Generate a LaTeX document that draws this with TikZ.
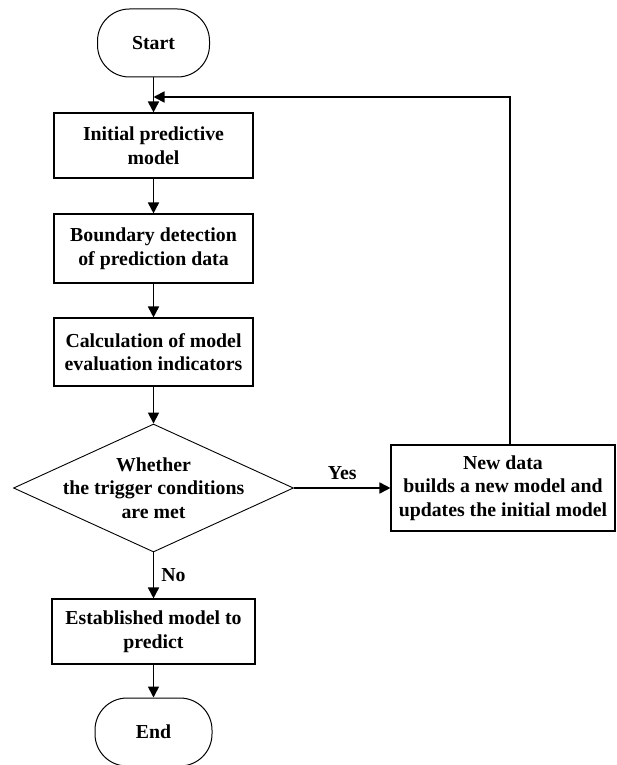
\documentclass[tikz,border=0pt]{standalone}
\usepackage{fontspec}
\setmainfont{Liberation Serif}
\usetikzlibrary{shapes.geometric,arrows.meta}
\begin{document}
\begin{tikzpicture}[x=1pt,y=-1pt,
  every node/.style={font=\fontsize{19.8}{23.5}\selectfont\bfseries, align=center, inner sep=0pt},
  procbox/.style={draw, line width=1.1pt, rectangle},
  term/.style={draw, line width=1pt, rectangle, rounded corners=32pt, minimum width=112pt, minimum height=68pt},
  flow/.style={line width=1.7pt, -{Triangle[length=11pt,width=11pt]}},
  lbl/.style={font=\fontsize{19.8}{23.5}\selectfont\bfseries}
]
\useasboundingbox (0,0) rectangle (617,765);
\node[term] (start) at (153.5,43) {Start};
\node[procbox, minimum width=199pt, minimum height=65pt] (b1) at (153.5,145.5) {Initial predictive\\model};
\node[procbox, minimum width=199pt, minimum height=69pt] (b2) at (153.5,248.5) {Boundary detection\\of prediction data};
\node[procbox, minimum width=199pt, minimum height=68pt] (b3) at (153.5,352) {Calculation of model\\evaluation indicators};
\node[draw, line width=0.9pt, diamond, aspect=2.1875, minimum width=280pt, minimum height=128pt] (dia) at (153.5,488) {};
\node (diatext) at (dia.center) {Whether\\the trigger conditions\\are met};
\node[procbox, minimum width=224pt, minimum height=86pt] (nd) at (503,488) {New data\\builds a new model and\\updates the initial model};
\node[procbox, minimum width=203pt, minimum height=65pt] (est) at (153.5,631.5) {Established model to\\predict};
\node[term, minimum width=117pt] (end) at (153.5,732) {End};
\coordinate (fb) at (510,97);

\draw[flow] (start.south) -- (b1.north);
\draw[flow] (b1.south) -- (b2.north);
\draw[flow] (b2.south) -- (b3.north);
\draw[flow] (b3.south) -- (dia.north);
\draw[flow] (dia.east) -- node[lbl, above=7pt] (yes) {Yes} (nd.west);
\draw[flow] (dia.south) -- node[lbl, right=7pt] (no) {No} (est.north);
\draw[flow] (est.south) -- (end.north);
\draw[flow] (nd.north -| fb) -- (fb) -- (fb -| start.south);
\end{tikzpicture}
\end{document}
